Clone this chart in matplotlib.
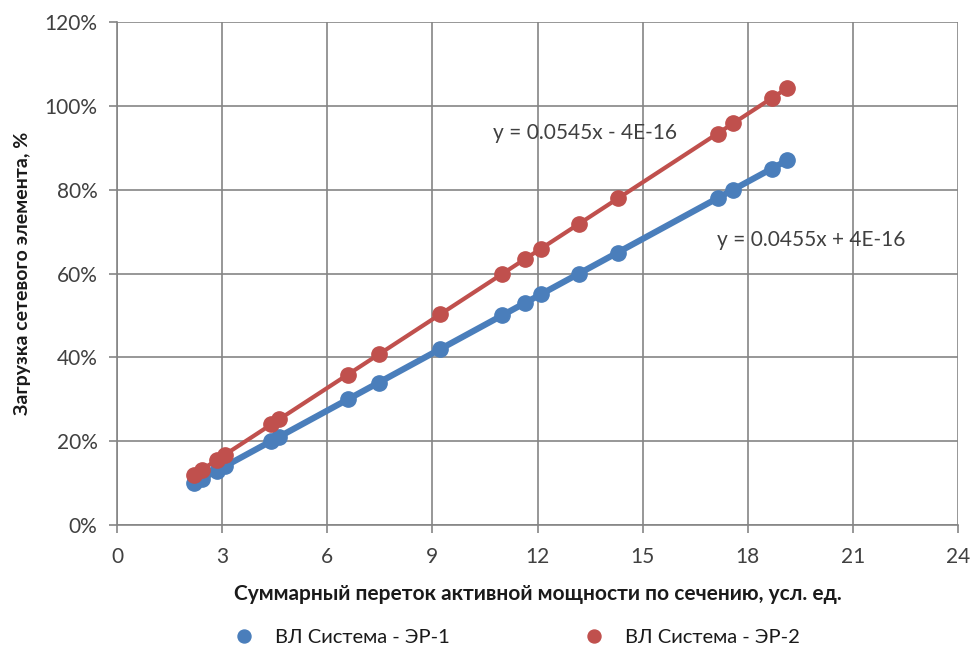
import numpy as np
import matplotlib
matplotlib.use("Agg")
import matplotlib.pyplot as plt
from matplotlib.ticker import FuncFormatter, MultipleLocator

# flow through the section, conventional units
flow = [2.20, 2.42, 2.86, 3.08, 4.40, 4.62, 6.59, 7.47, 9.23,
        10.99, 11.65, 12.09, 13.19, 14.29, 17.14, 17.58, 18.68, 19.12]

# trend coefficients for each line
slope_er1 = 0.0455
slope_er2 = 0.0545

load_er1 = [round(slope_er1 * f, 3) for f in flow]
load_er2 = [round(slope_er2 * f, 3) for f in flow]

label_er1 = "ВЛ Система - ЭР-1"
label_er2 = "ВЛ Система - ЭР-2"
eq_er1 = "y = 0.0455x + 4E-16"
eq_er2 = "y = 0.0545x - 4E-16"

BLUE = "#4a7ebb"
RED = "#c0504d"
TEXT = "#404040"

plt.rcParams['font.family'] = ['Lato', 'Open Sans', 'DejaVu Sans']

fig = plt.figure(figsize=(9.75, 6.51), dpi=100)
ax = fig.add_axes([0.12, 0.1935, 0.8626, 0.7727])

x = np.array(flow)
y1 = np.array(load_er1) * 100
y2 = np.array(load_er2) * 100

# fitted trend lines over the data range
fx = np.array([x.min(), x.max()])
ax.plot(fx, slope_er1 * fx * 100, color=BLUE, lw=4.5, zorder=3, solid_capstyle='round')
ax.plot(fx, slope_er2 * fx * 100, color=RED, lw=3, zorder=3, solid_capstyle='round')

ax.plot(x, y1, 'o', color=BLUE, ms=11, label=label_er1, zorder=4)
ax.plot(x, y2, 'o', color=RED, ms=11, label=label_er2, zorder=4)

ax.set_xlim(0, 24)
ax.set_ylim(0, 120)
ax.xaxis.set_major_locator(MultipleLocator(3))
ax.yaxis.set_major_locator(MultipleLocator(20))
ax.yaxis.set_major_formatter(FuncFormatter(lambda v, _: f"{v:.0f}%"))

ax.grid(True, color="#858585", lw=1.2)
ax.set_axisbelow(True)
for side in ["top", "right"]:
    ax.spines[side].set_visible(False)
for side in ["left", "bottom"]:
    ax.spines[side].set_color("#858585")
    ax.spines[side].set_linewidth(1.2)
ax.tick_params(axis='both', colors="#858585", length=6, width=1.2,
               labelcolor=TEXT, labelsize=15)
ax.tick_params(axis='x', pad=10)
ax.tick_params(axis='y', pad=8)

ax.set_xlabel("Суммарный переток активной мощности по сечению, усл. ед.",
              fontsize=15, fontweight='bold', color="#1a1a1a", labelpad=12)
ax.set_ylabel("Загрузка сетевого элемента, %",
              fontsize=14, fontweight='bold', color="#1a1a1a", labelpad=10)

ax.text(13.35, 93.5, eq_er2, fontsize=15, color=TEXT, ha='center', va='center')
ax.text(19.8, 68, eq_er1, fontsize=15, color=TEXT, ha='center', va='center')

fig.legend(loc='lower center', bbox_to_anchor=(0.525, -0.02), ncol=2, frameon=False,
           fontsize=14.5, labelcolor="#1a1a1a", handletextpad=0.5, columnspacing=6.2,
           markerscale=0.85)

fig.savefig("out.png", dpi=100)
